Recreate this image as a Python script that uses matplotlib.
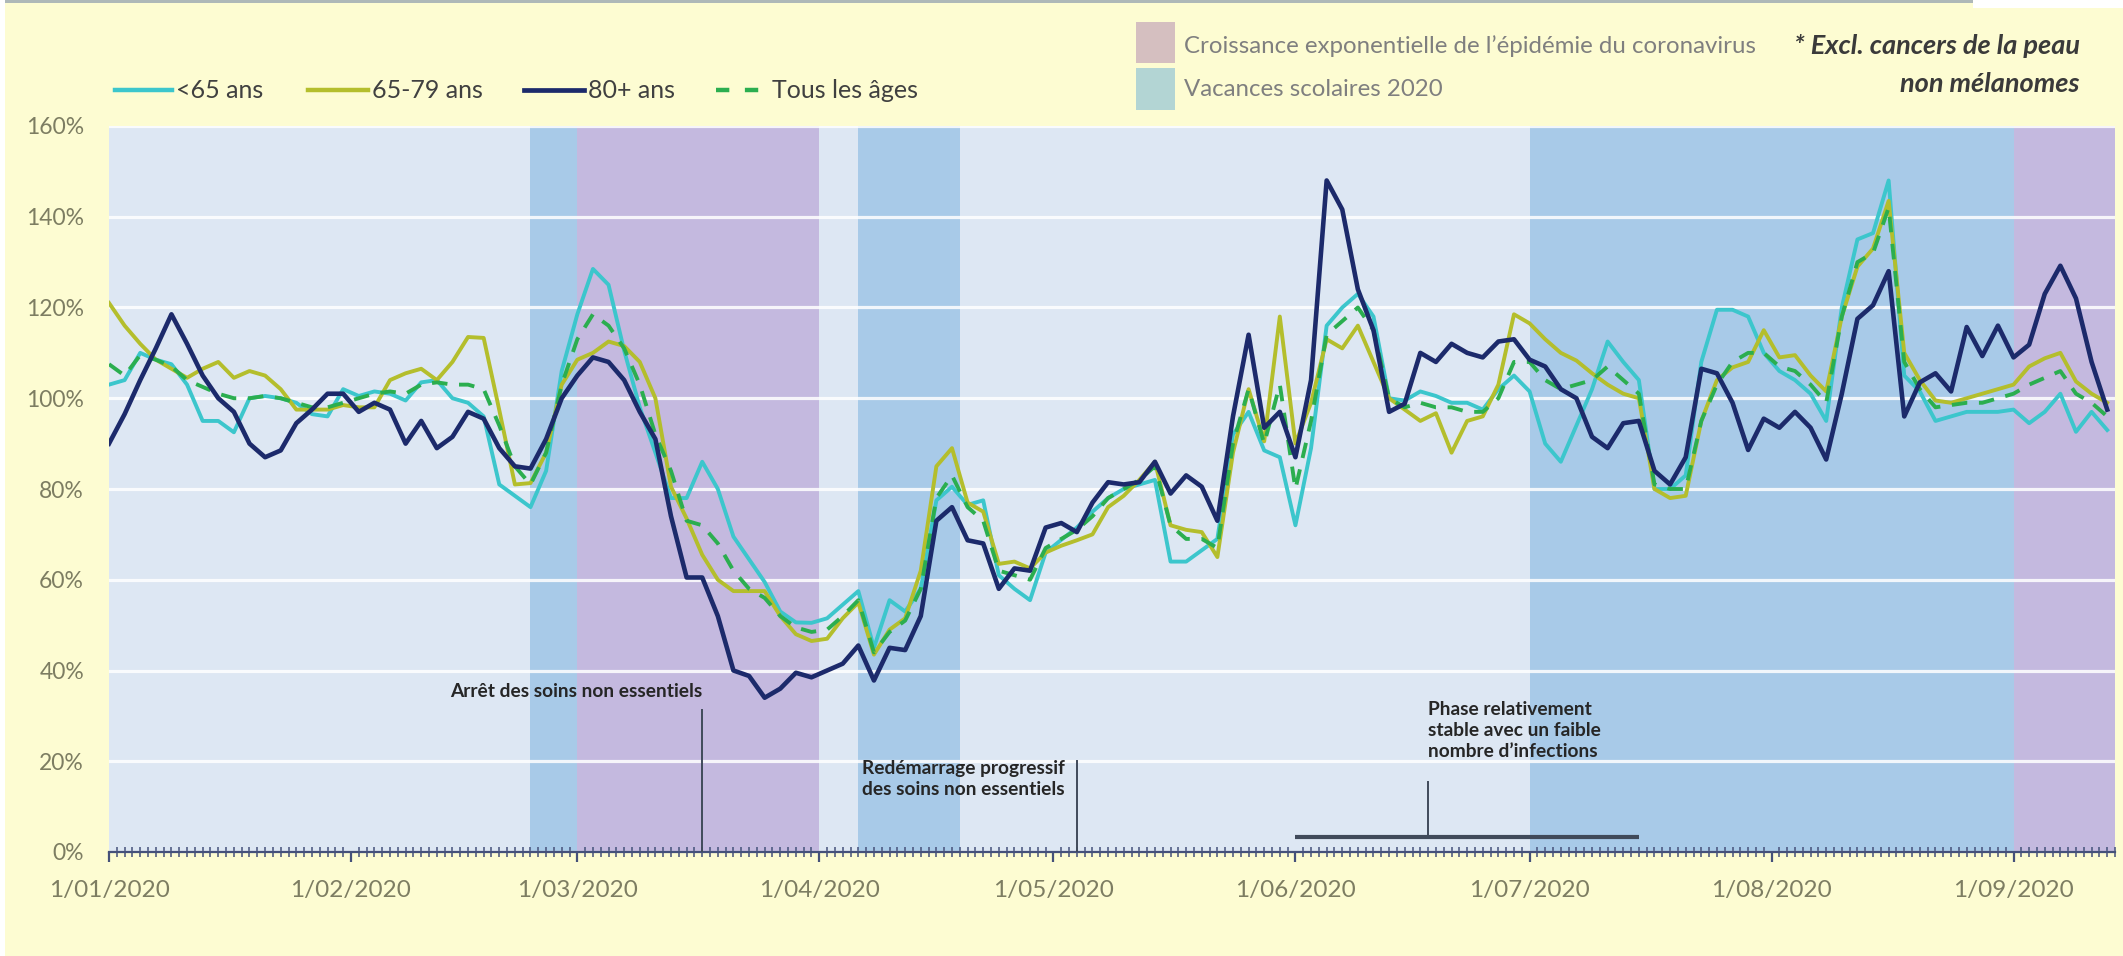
import pandas as pd
import numpy as np
import matplotlib.pyplot as plt
import matplotlib.dates as mdates
from matplotlib.lines import Line2D
from matplotlib.patches import Rectangle
from matplotlib.ticker import MultipleLocator, FuncFormatter

plt.rcParams['font.family'] = ['Lato', 'DejaVu Sans']

# -------------------------
# DATA (one point every 2 days from 1/01/2020, values in %)
# -------------------------

start = "2020-01-01"

moins_65 = [
    103, 104, 110, 108.5, 107.5, 103, 95, 95, 92.5, 100, 100.5, 100, 99, 96.5, 96, 102, 100.5, 101.5, 101, 99.5, 103.5, 104,
    100, 99, 96, 81, 78.5, 76, 84, 106, 118.5, 128.5, 125, 110.5, 98, 88, 78, 78, 86, 80, 69.5, 64.5, 59.5, 53,
    50.6, 50.5, 51.5, 54.5, 57.5, 45, 55.5, 53, 58, 77.5, 80.5, 76.5, 77.5, 61, 58, 55.5, 66, 68.8, 71.5, 75, 78,
    80, 81, 82, 64, 64, 66.5, 69, 92, 97, 88.5, 87, 72, 89, 116, 120, 123, 118, 100, 99.5, 101.5, 100.5, 99,
    99, 97.5, 102, 105, 101.5, 90, 86, 94, 102, 112.5, 108, 104, 80, 80, 83, 108, 119.5, 119.5, 118, 110, 106,
    104, 101, 95, 120, 135, 136.4, 148, 105, 101.5, 95, 96, 97, 97, 97, 97.5, 94.5, 97, 101, 92.6, 97, 93,
]

ans_65_79 = [
    121, 116, 112, 108.5, 106.5, 104.5, 106.5, 108, 104.5, 106, 105, 102, 97.5, 97.5, 97.5, 98.5, 98, 98, 104, 105.5, 106.5, 104,
    108, 113.5, 113.3, 97.4, 81, 81.3, 88, 103, 108.5, 110, 112.5, 111.5, 108, 100, 80.5, 73.5, 65.5, 60, 57.5, 57.5, 57.5, 52,
    48, 46.5, 47, 51.5, 55, 43.5, 49, 51.5, 62, 85, 89, 77, 75, 63.5, 64, 62.5, 66, 67.5, 68.7, 70, 76,
    78.5, 82, 86, 72, 71, 70.5, 65, 88, 102, 90.5, 118, 90, 99, 113, 111, 116, 108, 100, 97.5, 95, 96.7, 88,
    95, 96, 103, 118.5, 116.5, 113, 110, 108.3, 105.5, 103, 101, 100, 80, 78, 78.5, 95, 104, 106.8, 108, 115, 109,
    109.5, 105, 101.5, 118, 129, 133, 143.5, 110, 104, 99.5, 99, 100, 101, 102, 103, 107, 108.8, 110, 103.7, 101, 99,
]

ans_80 = [
    90, 96.5, 104, 111, 118.5, 112, 105, 100, 97, 90, 87, 88.5, 94.5, 97.5, 101, 101, 97, 99, 97.5, 90, 95, 89,
    91.5, 97, 95.5, 89, 85, 84.5, 91, 100, 105, 109, 108, 104, 97, 91, 74, 60.5, 60.5, 52, 40, 38.8, 34, 36,
    39.5, 38.5, 40, 41.5, 45.5, 37.8, 45, 44.5, 52, 73, 76, 68.7, 68, 58, 62.5, 62, 71.5, 72.5, 70.5, 77, 81.5,
    81, 81.5, 86, 79, 83, 80.5, 73, 96, 114, 93.5, 97, 87, 104, 148, 141.6, 124, 115, 97, 98.8, 110, 108, 112,
    110, 109, 112.5, 113, 108.5, 107, 102, 100, 91.5, 89, 94.5, 95, 84, 81, 87, 106.5, 105.5, 99, 88.6, 95.5, 93.5,
    97, 93.5, 86.5, 101, 117.5, 120.5, 128, 96, 103.5, 105.5, 101.5, 115.7, 109.3, 116, 109, 111.8, 123, 129.2, 122, 108, 97.5,
]

tous_ages = [
    107.5, 105, 109.5, 108.5, 107, 104, 102.5, 101, 100, 100, 100.5, 100, 99, 98, 98, 99, 100, 101, 101.5, 101, 103, 103.5,
    103, 103, 102, 94, 85, 81, 88, 103, 113, 118.5, 116, 111, 103, 92, 84, 73, 72, 68, 62, 58, 56, 52,
    49.5, 48.5, 49, 52, 55.5, 44, 48.5, 51, 58, 78, 83, 76, 73, 62, 61, 60, 67, 69, 71, 74, 78,
    80, 82, 85, 72, 69, 69, 67, 90, 102, 90, 103, 80, 95, 114, 117, 120, 115, 100, 98, 99, 98, 98,
    97, 97, 100, 108, 108, 104, 102, 103, 104, 107, 104, 101, 81, 80, 80, 95, 103, 108, 110, 110, 107,
    106, 103, 99, 118, 130, 132, 142, 108, 102, 98, 98.5, 99, 99, 100, 101, 103, 104.5, 106, 101, 99, 96,
]

dates = pd.date_range(start, periods=len(ans_80), freq="2D")

vacances = [("2020-02-24", "2020-03-01"), ("2020-04-06", "2020-04-19"), ("2020-07-01", "2020-09-01")]
croissance = [("2020-03-01", "2020-04-01"), ("2020-09-01", "2020-09-14")]

# -------------------------
# COLOURS
# -------------------------

c_fig = "#FDFCD2"
c_bg = "#DDE7F3"
c_vac = "#A8CAE8"
c_croi = "#C4B9DF"
c_65 = "#3CC6CC"
c_6579 = "#B4BE2C"
c_80 = "#1C2A6B"
c_tous = "#2BAE4F"
c_tick = "#7d7d62"
c_annot = "#404a5a"
c_axis = "#45517a"

W, H = 2123, 956


def fx(x):
    return x / W


def fy(y):
    return 1 - y / H


# -------------------------
# FIGURE
# -------------------------

fig = plt.figure(figsize=(W / 100, H / 100), dpi=100)
fig.patch.set_facecolor(c_fig)

ax = fig.add_axes([fx(109), fy(852), fx(2115 - 109), (852 - 126) / H])
ax.set_facecolor(c_bg)

for a, b in vacances:
    ax.axvspan(pd.Timestamp(a), pd.Timestamp(b), color=c_vac, lw=0, zorder=0.2)
for a, b in croissance:
    ax.axvspan(pd.Timestamp(a), pd.Timestamp(b), color=c_croi, lw=0, zorder=0.3)

ax.set_axisbelow(True)
ax.yaxis.grid(True, color="white", lw=2.3, alpha=0.85)

ax.plot(dates, moins_65, color=c_65, lw=2.8, zorder=3)
ax.plot(dates, ans_65_79, color=c_6579, lw=2.8, zorder=3)
ax.plot(dates, tous_ages, color=c_tous, lw=2.8, dashes=(4, 3), zorder=3)
ax.plot(dates, ans_80, color=c_80, lw=3.3, zorder=4)

ax.set_xlim(pd.Timestamp("2020-01-01"), pd.Timestamp("2020-09-14"))
ax.set_ylim(0, 160)

ax.yaxis.set_major_locator(MultipleLocator(20))
ax.yaxis.set_major_formatter(FuncFormatter(lambda v, p: f"{v:.0f}%"))
ax.tick_params(axis="y", length=0, pad=18, labelsize=16.5, labelcolor=c_tick)

ax.xaxis.set_major_locator(mdates.MonthLocator())
ax.xaxis.set_minor_locator(mdates.DayLocator())


def fmt_date(x, pos):
    d = mdates.num2date(x)
    return f"{d.day}/{d.month:02d}/{d.year}"


ax.xaxis.set_major_formatter(FuncFormatter(fmt_date))
ax.tick_params(axis="x", which="major", direction="out", length=7, width=1.6,
               color=c_axis, pad=13, labelsize=17.5, labelcolor=c_tick)
ax.tick_params(axis="x", which="minor", direction="inout", length=7, width=1.1,
               color=c_axis)

for s in ["top", "right", "left"]:
    ax.spines[s].set_visible(False)
ax.spines["bottom"].set_color(c_axis)
ax.spines["bottom"].set_linewidth(1.6)

# -------------------------
# ANNOTATIONS
# -------------------------

arret = pd.Timestamp("2020-03-17")
ax.plot([arret, arret], [0, 31.3], color=c_annot, lw=1.4, zorder=5)
ax.text(arret, 35.3, "Arrêt des soins non essentiels", ha="right", va="center",
        fontsize=13.8, fontweight="bold", color="#262626", zorder=6)

redem = pd.Timestamp("2020-05-04")
ax.plot([redem, redem], [0, 20.1], color=c_annot, lw=1.4, zorder=5)
ax.text(pd.Timestamp("2020-04-06 12:00"), 16.1, "Redémarrage progressif\ndes soins non essentiels",
        ha="left", va="center", fontsize=13.8, fontweight="bold", color="#262626",
        linespacing=1.3, zorder=6)

phase_a, phase_b, phase_m = pd.Timestamp("2020-06-01"), pd.Timestamp("2020-07-15"), pd.Timestamp("2020-06-18")
ax.plot([phase_a, phase_b], [3.4, 3.4], color=c_annot, lw=3, zorder=5, solid_capstyle="butt")
ax.plot([phase_m, phase_m], [3.4, 15.5], color=c_annot, lw=1.4, zorder=5)
ax.text(phase_m, 26.8, "Phase relativement\nstable avec un faible\nnombre d’infections",
        ha="left", va="center", fontsize=13.8, fontweight="bold", color="#262626",
        linespacing=1.3, zorder=6)

# -------------------------
# LEGENDS
# -------------------------

series_leg = [
    ("<65 ans", c_65, "-", 115, 172),
    ("65-79 ans", c_6579, "-", 308, 368),
    ("80+ ans", c_80, "-", 524, 584),
    ("Tous les âges", c_tous, "--", 716, 768),
]
for lab, col, ls, x0, x1 in series_leg:
    ln = Line2D([fx(x0), fx(x1)], [fy(90), fy(90)], transform=fig.transFigure,
                color=col, lw=3.4 if col == c_80 else 3.2, linestyle=ls,
                dashes=(3, 3.5) if ls == "--" else (None, None))
    fig.add_artist(ln)
    fig.text(fx(x1 + 4), fy(90), lab, ha="left", va="center", fontsize=18, color="#404040")

fig.add_artist(Rectangle((fx(1136), fy(63)), fx(39), 41 / H, transform=fig.transFigure,
                         color="#D5BFC0", lw=0))
fig.add_artist(Rectangle((fx(1136), fy(110)), fx(39), 42 / H, transform=fig.transFigure,
                         color="#B3D5D4", lw=0))
fig.text(fx(1184), fy(46), "Croissance exponentielle de l’épidémie du coronavirus",
         ha="left", va="center", fontsize=17.3, color="#7f7f7f")
fig.text(fx(1184), fy(89), "Vacances scolaires 2020",
         ha="left", va="center", fontsize=17.3, color="#7f7f7f")

fig.text(fx(2080), fy(46), "* Excl. cancers de la peau", ha="right", va="center",
         fontsize=19.5, fontweight="bold", fontstyle="italic", color="#3a3a3a")
fig.text(fx(2080), fy(84), "non mélanomes", ha="right", va="center",
         fontsize=19.5, fontweight="bold", fontstyle="italic", color="#3a3a3a")

# thin frame remnants of the original picture
fig.add_artist(Rectangle((0, fy(3)), fx(1973), 3 / H, transform=fig.transFigure,
                         color="#AEB8B8", lw=0))
fig.add_artist(Rectangle((fx(1973), fy(8)), fx(W - 1973), 8 / H, transform=fig.transFigure,
                         color="white", lw=0))
fig.add_artist(Rectangle((0, 0), fx(5), 1, transform=fig.transFigure, color="white", lw=0))

fig.savefig("out.png", dpi=100, facecolor=fig.get_facecolor())
